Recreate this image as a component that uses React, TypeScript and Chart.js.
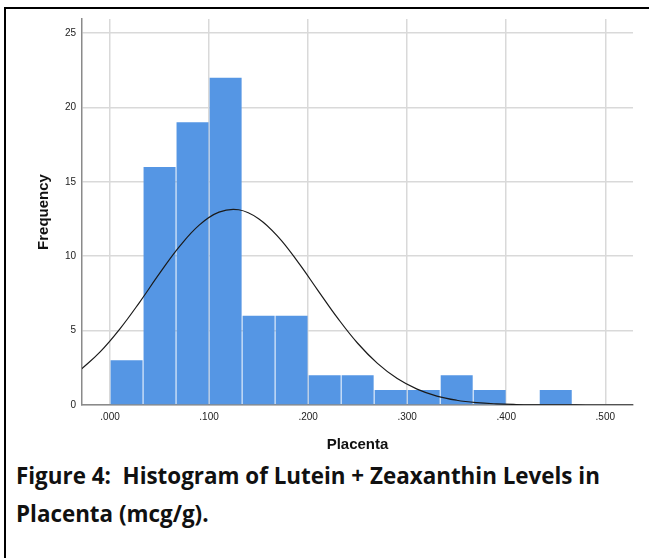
import React, { useEffect, useRef } from "react";
import { Chart, registerables } from "chart.js";

Chart.register(...registerables);

// Histogram bins (bin centres, width 1/30) and frequencies
const binCenters = [0.0167, 0.05, 0.0833, 0.1167, 0.15, 0.1833, 0.2167, 0.25, 0.2833, 0.3167, 0.35, 0.3833, 0.4167, 0.45, 0.4833];
const frequencies = [3, 16, 19, 22, 6, 6, 2, 2, 1, 1, 2, 1, 0, 1, 0];

// Normal curve
const curveX = [-0.03, -0.01, 0.01, 0.03, 0.05, 0.07, 0.09, 0.11, 0.13, 0.15, 0.17, 0.19, 0.21, 0.23, 0.25, 0.27, 0.29, 0.31, 0.33, 0.35, 0.37, 0.39, 0.41, 0.43, 0.45, 0.47, 0.49, 0.51, 0.53];
const curveY = [2.35, 3.57, 5.12, 6.92, 8.84, 10.64, 12.09, 12.96, 13.12, 12.52, 11.28, 9.58, 7.69, 5.82, 4.15, 2.8, 1.78, 1.07, 0.6, 0.32, 0.16, 0.077, 0.035, 0.015, 0.006, 0.002, 0.001, 0, 0];

const xTickValues = [0, 0.1, 0.2, 0.3, 0.4, 0.5];
const xTickLabels = [".000", ".100", ".200", ".300", ".400", ".500"];
const yTickValues = [0, 5, 10, 15, 20, 25];
const yTickLabels = ["0", "5", "10", "15", "20", "25"];

const xTitle = "Placenta";
const yTitle = "Frequency";
const captionLine1 = "Figure 4:  Histogram of Lutein + Zeaxanthin Levels in";
const captionLine2 = "Placenta (mcg/g).";

const BAR_COLOR = "#5596E4";
const AXIS_FONT = "'Liberation Sans', Arial, sans-serif";

export default function App() {
  const canvasRef = useRef<HTMLCanvasElement | null>(null);

  useEffect(() => {
    const canvas = canvasRef.current;
    if (!canvas) return;
    const chart = new Chart(canvas, {
      type: "bar",
      data: {
        datasets: [
          {
            type: "line",
            data: curveX.map((x, i) => ({ x, y: curveY[i] })),
            borderColor: "#1a1a1a",
            borderWidth: 1.2,
            pointRadius: 0,
            tension: 0.4,
            fill: false,
            order: 0,
          } as any,
          {
            type: "bar",
            data: binCenters.map((x, i) => ({ x, y: frequencies[i] })),
            backgroundColor: BAR_COLOR,
            borderWidth: 0,
            barPercentage: 0.97,
            categoryPercentage: 1,
            order: 1,
          } as any,
        ],
      },
      options: {
        animation: false,
        responsive: false,
        maintainAspectRatio: false,
        layout: { padding: { left: 0, right: 16, top: 19, bottom: 0 } },
        plugins: { legend: { display: false }, tooltip: { enabled: false } },
        scales: {
          x: {
            type: "linear",
            min: -0.0283,
            max: 0.528,
            offset: false,
            afterBuildTicks: (s: any) => {
              s.ticks = xTickValues.map((v) => ({ value: v }));
            },
            afterFit: (s: any) => {
              s.height = 55;
            },
            grid: { color: "#d9d9d9", lineWidth: 1.5, drawTicks: false, offset: false },
            border: { color: "#8a8a8a", width: 1.5 },
            ticks: {
              padding: 6,
              color: "#222",
              font: { family: AXIS_FONT, size: 10 },
              maxRotation: 0,
              autoSkip: false,
              callback: (v: any) => {
                const i = xTickValues.findIndex((t) => Math.abs(t - Number(v)) < 1e-9);
                return i >= 0 ? xTickLabels[i] : "";
              },
            },
            title: {
              display: true,
              text: xTitle,
              color: "#111",
              font: { family: AXIS_FONT, size: 15, weight: "bold" },
              padding: { top: 0, bottom: 6 },
            },
          },
          y: {
            type: "linear",
            min: 0,
            max: 25.94,
            afterBuildTicks: (s: any) => {
              s.ticks = yTickValues.map((v) => ({ value: v }));
            },
            afterFit: (s: any) => {
              s.width = 82;
            },
            grid: { color: "#d9d9d9", lineWidth: 1.5, drawTicks: false },
            border: { color: "#8a8a8a", width: 1.5 },
            ticks: {
              padding: 6,
              color: "#222",
              font: { family: AXIS_FONT, size: 10 },
              callback: (v: any) => {
                const i = yTickValues.indexOf(Number(v));
                return i >= 0 ? yTickLabels[i] : "";
              },
            },
            title: {
              display: true,
              text: yTitle,
              color: "#111",
              font: { family: AXIS_FONT, size: 15, weight: "bold" },
              padding: { top: 35, bottom: 0 },
            },
          },
        },
      },
    });
    return () => chart.destroy();
  }, []);

  const captionStyle: React.CSSProperties = {
    position: "absolute",
    left: 16,
    fontFamily: "'Open Sans', Lato, sans-serif",
    fontWeight: 700,
    fontSize: 22.4,
    color: "#111",
    whiteSpace: "pre",
    lineHeight: "26px",
  };

  return (
    <div style={{ position: "absolute", left: 0, top: 0, width: 649, height: 558, background: "#fff", overflow: "hidden" }}>
      <div
        style={{
          position: "absolute",
          left: 4,
          top: 7,
          width: 649,
          height: 560,
          borderLeft: "2px solid #000",
          borderTop: "2px solid #000",
        }}
      />
      <canvas
        ref={canvasRef}
        width={649}
        height={460}
        style={{ position: "absolute", left: 0, top: 0, width: 649, height: 460 }}
      />
      <div style={{ ...captionStyle, top: 463 }}>{captionLine1}</div>
      <div style={{ ...captionStyle, top: 501 }}>{captionLine2}</div>
    </div>
  );
}
